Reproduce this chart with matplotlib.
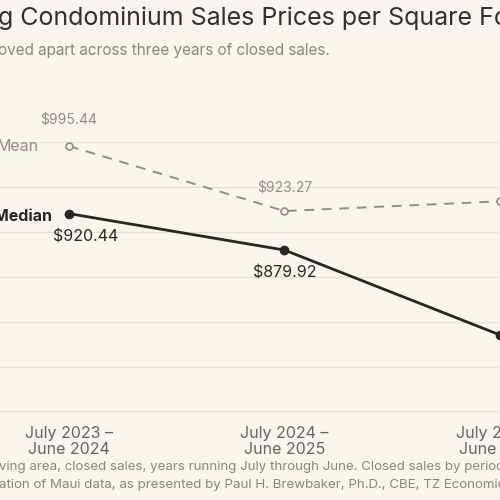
import matplotlib.pyplot as plt

plt.rcParams['font.family'] = ['Inter', 'DejaVu Sans']

periods = ['July 2023 –\nJune 2024', 'July 2024 –\nJune 2025', 'July 2025 –\nJune 2026']
median = [920.44, 879.92, 785.60]
mean = [995.44, 923.27, 934.10]

bg = '#f8f5ef'
dark = '#2a2622'
tan = '#9c8b7b'

fig = plt.figure(figsize=(5, 5), dpi=100, facecolor=bg)
# axes: figure px 0..500 maps x -0.32..1.68, px 412..142 maps 700..1000
ax = fig.add_axes([0, 0.176, 1, 0.54], facecolor=bg)
for s in ax.spines.values():
    s.set_visible(False)
for v in [750, 800, 850, 900, 950, 1000]:
    ax.axhline(v, color='#e6e1d8', lw=0.9, zorder=0)
ax.axhline(700, color='#e0dbd2', lw=2, zorder=0)

x = range(3)
ax.plot(x, mean, color=tan, lw=1.4, ls=(0, (5, 4)), marker='o', ms=5,
        mfc=bg, mec=tan, mew=1.2, clip_on=False, zorder=3)
ax.plot(x, median, color=dark, lw=2, marker='o', ms=6, clip_on=False, zorder=4)

ax.set_xlim(-0.32, 1.68)
ax.set_ylim(700, 1000)
ax.set_yticks([])
ax.set_xticks(range(3))
ax.set_xticklabels(periods, fontsize=11.5, color='#666660', linespacing=1.1)
ax.tick_params(axis='x', length=0, pad=10)

ax.annotate(f'${mean[0]:,.2f}', (0, mean[0]), xytext=(0, 16), textcoords='offset points',
            ha='center', fontsize=10, color=tan)
ax.annotate(f'${mean[1]:,.2f}', (1, mean[1]), xytext=(0, 14), textcoords='offset points',
            ha='center', fontsize=10, color=tan)
ax.annotate(f'${median[0]:,.2f}', (0, median[0]), xytext=(12, -20), textcoords='offset points',
            ha='center', fontsize=11.5, color=dark)
ax.annotate(f'${median[1]:,.2f}', (1, median[1]), xytext=(0, -20), textcoords='offset points',
            ha='center', fontsize=11.5, color=dark)
ax.annotate('Mean', (0, mean[0]), xytext=(-2, 0), textcoords='offset points',
            ha='right', va='center', fontsize=11.5, color=tan)
ax.annotate('Median', (0, median[0]), xytext=(-12, -2), textcoords='offset points',
            ha='right', va='center', fontsize=11.5, color=dark, fontweight='bold')
# move "Mean" label so it ends well left of the marker, like the reference
ax.texts[-2].set_position((-22, 0))

def split_text(px, py, left, right, **kw):
    # prefix ends and remainder starts at the same pixel so they read as one line
    fig.text(px / 500, 1 - py / 500, left, ha='right', va='center', **kw)
    fig.text(px / 500, 1 - py / 500, right, ha='left', va='center', **kw)

split_text(-2, 18, 'Divergin', 'g Condominium Sales Prices per Square Foot',
           fontsize=18, color='#333030')
split_text(-2, 50, 'Median and mean m', 'oved apart across three years of closed sales.',
           fontsize=11, color='#8a8680')
split_text(-1, 467, 'Price per square foot of li',
           'ving area, closed sales, years running July through June. Closed sales by period: 727, 553, 712.',
           fontsize=9.6, color='#8a8680')
split_text(-1, 485, 'Source: Realtors Association of Maui; tabul',
           'ation of Maui data, as presented by Paul H. Brewbaker, Ph.D., CBE, TZ Economics, July 31, 2026.  Chart',
           fontsize=9.6, color='#8a8680')

fig.savefig('out.png', dpi=100, facecolor=bg)
